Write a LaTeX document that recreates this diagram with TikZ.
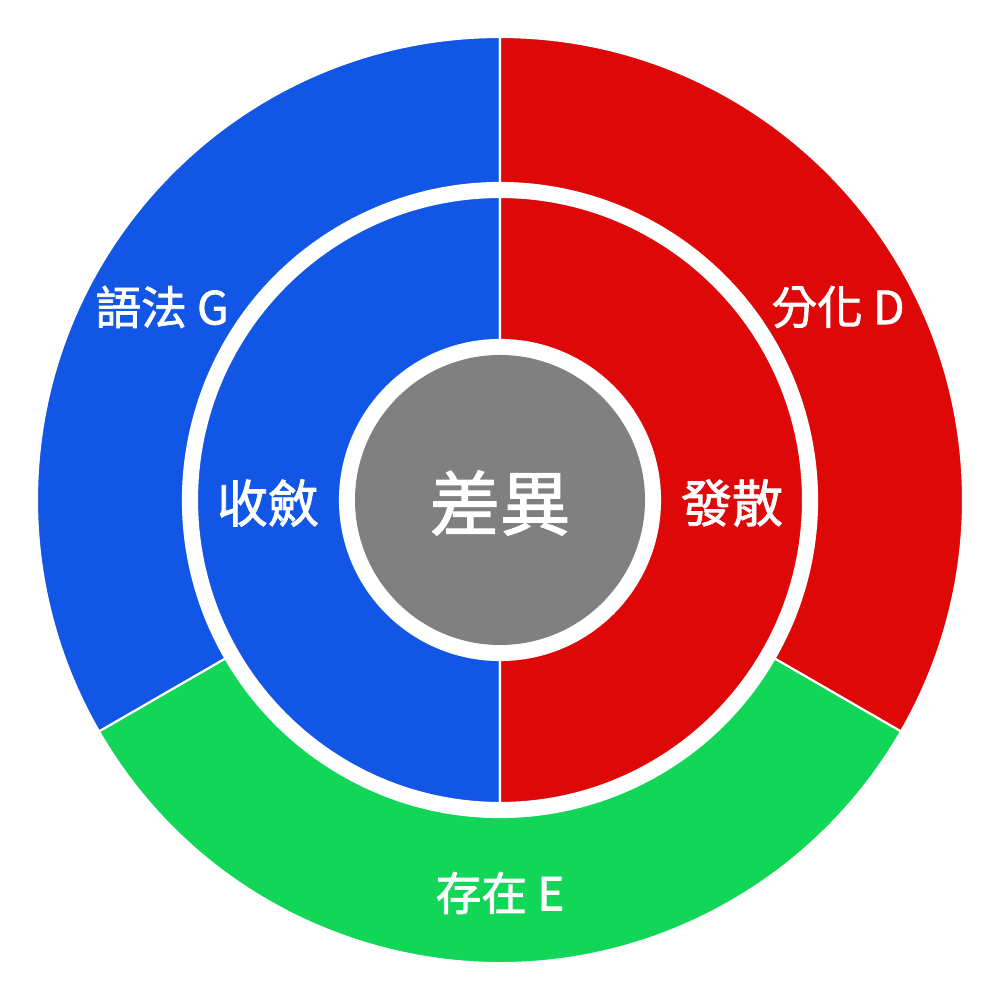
\documentclass[tikz,border=0pt]{standalone}
\usepackage{fontspec}
\usepackage{xcolor}
\setmainfont{Noto Sans CJK TC}
\newfontfamily\medfont{Noto Sans CJK TC}[FakeBold=1.6]
\usetikzlibrary{positioning}

\definecolor{gblue}{HTML}{1156E4}
\definecolor{dred}{HTML}{DE0808}
\definecolor{egreen}{HTML}{12D657}
\definecolor{cgray}{HTML}{808080}

\begin{document}
\begin{tikzpicture}[sector/.style={draw=white, line width=0.6pt}, label/.style={text=white, inner sep=0pt, font=\fontsize{13pt}{15pt}\selectfont\medfont}, half/.style={text=white, inner sep=0pt, font=\fontsize{14.5pt}{17pt}\selectfont\medfont}]

        \useasboundingbox (-5,-5) rectangle (5,5);

        % outer ring
        \fill[gblue, sector] (90:4.63) arc[start angle=90, end angle=210, radius=4.63] -- (210:3.17) arc[start angle=210, end angle=90, radius=3.17] -- cycle;
        \fill[dred, sector] (90:4.63) arc[start angle=90, end angle=-30, radius=4.63] -- (-30:3.17) arc[start angle=-30, end angle=90, radius=3.17] -- cycle;
        \fill[egreen, sector] (210:4.63) arc[start angle=210, end angle=330, radius=4.63] -- (330:3.17) arc[start angle=330, end angle=210, radius=3.17] -- cycle;

        % inner ring
        \fill[gblue, sector] (90:3.03) arc[start angle=90, end angle=270, radius=3.03] -- (270:1.60) arc[start angle=270, end angle=90, radius=1.60] -- cycle;
        \fill[dred, sector] (90:3.03) arc[start angle=90, end angle=-90, radius=3.03] -- (-90:1.60) arc[start angle=-90, end angle=90, radius=1.60] -- cycle;

        % centre
        \fill[cgray] (0,0) circle[radius=1.45];

        \node[text=white, font=\fontsize{20pt}{24pt}\selectfont\medfont] (C) at (0,-0.03) {差異};

        \node[half] (conv) at (-2.32,-0.03) {收斂};
        \node[half] (div) at (2.32,-0.03) {發散};

        \node[label] (G) at (-3.38,1.93) {語法 G};
        \node[label] (D) at (3.38,1.93) {分化 D};
        \node[label] (E) at (0,-3.93) {存在 E};

    \end{tikzpicture}
\end{document}
